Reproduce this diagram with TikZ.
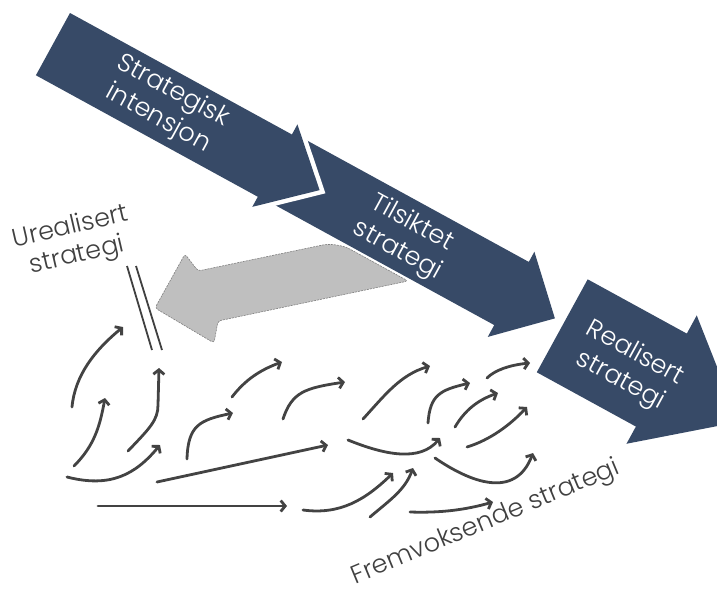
\documentclass[tikz,border=0pt]{standalone}
\usepackage{fontspec}
\setmainfont{Poppins Light}
\usetikzlibrary{arrows.meta}

\definecolor{StratNavy}{HTML}{374A67}
\definecolor{DriftFill}{HTML}{BFBFBF}
\definecolor{DriftEdge}{HTML}{7F7F7F}
\definecolor{FlowGray}{HTML}{434343}
\definecolor{NoteGray}{HTML}{404040}

\begin{document}
\begin{tikzpicture}[x=1pt,y=-1pt,
    flow/.style={draw=FlowGray,line width=2.8pt,line cap=round,
      -{Straight Barb[length=4.5pt,width=11pt]}},
    stratlabel/.style={text=white,align=center,rotate=-28.7,
      font=\fontsize{25.5}{31}\selectfont},
    notelabel/.style={text=NoteGray,align=center,
      font=\fontsize{25.5}{29}\selectfont}]
  \useasboundingbox (0,0) rectangle (717,589);

  % unrealised part, pushed back
  \draw[fill=DriftFill,draw=DriftEdge,dashed,dash pattern=on 2pt off 1pt,
    line width=0.6pt,rounded corners=3pt]
    (155,308) -- (185,254) -- (198,271)
    [rounded corners=15pt] -- (337,242) [rounded corners=3pt]
    -- (408,281) -- (218,321) -- (214,343) -- cycle;

  % the three big arrows, along one axis
  \begin{scope}[shift={(70,13)},rotate=-28.7]
    \fill[StratNavy] (255,-2) -- (522,-2) -- (522,-13.6) -- (572,35)
      -- (522,83.5) -- (522,70) -- (255,70) -- cycle;
    \fill[StratNavy,preaction={draw=white,line width=9pt}]
      (0,0) -- (253,0) -- (253,-11.5) -- (304,35.5)
      -- (253,82.5) -- (253,71) -- (0,71) -- cycle;
    \fill[StratNavy] (582,-15) -- (695,-15) -- (695,-35.7) -- (783,37.5)
      -- (695,110.6) -- (695,91) -- (582,91) -- cycle;
    \node[stratlabel] (intended) at (128,35) {Strategisk\\intensjon};
    \node[stratlabel] (deliberate) at (401,36) {Tilsiktet\\strategi};
    \node[stratlabel] (realised) at (659,43) {Realisert\\strategi};
  \end{scope}

  \node[notelabel,rotate=13] (unrealised) at (74,242) {Urealisert\\strategi};
  \draw[NoteGray,line width=1.8pt] (127,266) -- (152,350);
  \draw[NoteGray,line width=1.8pt] (136,266) -- (162,350);

  % emergent moves
  \draw[flow] (72,407) .. controls (75,375) and (95,350) .. (123,327);
  \draw[flow] (74,466) .. controls (95,445) and (100,425) .. (105,398);
  \draw[flow] (128,451) .. controls (150,428) and (158,420) .. (158,405) -- (159,368);
  \draw[flow] (67,477) .. controls (110,488) and (135,475) .. (160,445);
  \draw[flow] (157,482) -- (328,445);
  \draw[flow] (98,506) -- (287,506);
  \draw[flow] (187,459) .. controls (188,425) and (200,420) .. (233,413);
  \draw[flow] (232,397) .. controls (245,380) and (260,370) .. (282,362);
  \draw[flow] (283,419) .. controls (292,392) and (305,388) .. (345,382);
  \draw[flow] (363,419) .. controls (385,395) and (400,375) .. (430,366);
  \draw[flow] (348,440) .. controls (385,455) and (420,462) .. (440,438);
  \draw[flow] (428,423) .. controls (430,395) and (440,390) .. (470,383);
  \draw[flow] (455,427) .. controls (465,410) and (478,400) .. (498,393);
  \draw[flow] (487,378) .. controls (495,370) and (510,365) .. (530,363);
  \draw[flow] (467,447) .. controls (490,440) and (510,425) .. (527,407);
  \draw[flow] (435,458) .. controls (470,482) and (515,500) .. (533,453);
  \draw[flow] (303,510) .. controls (340,515) and (365,500) .. (393,473);
  \draw[flow] (370,517) .. controls (390,500) and (405,490) .. (413,468);
  \draw[flow] (410,512) .. controls (440,513) and (465,510) .. (493,502);

  \node[notelabel,rotate=22.6] (emergent) at (486,523) {Fremvoksende strategi};
\end{tikzpicture}
\end{document}
